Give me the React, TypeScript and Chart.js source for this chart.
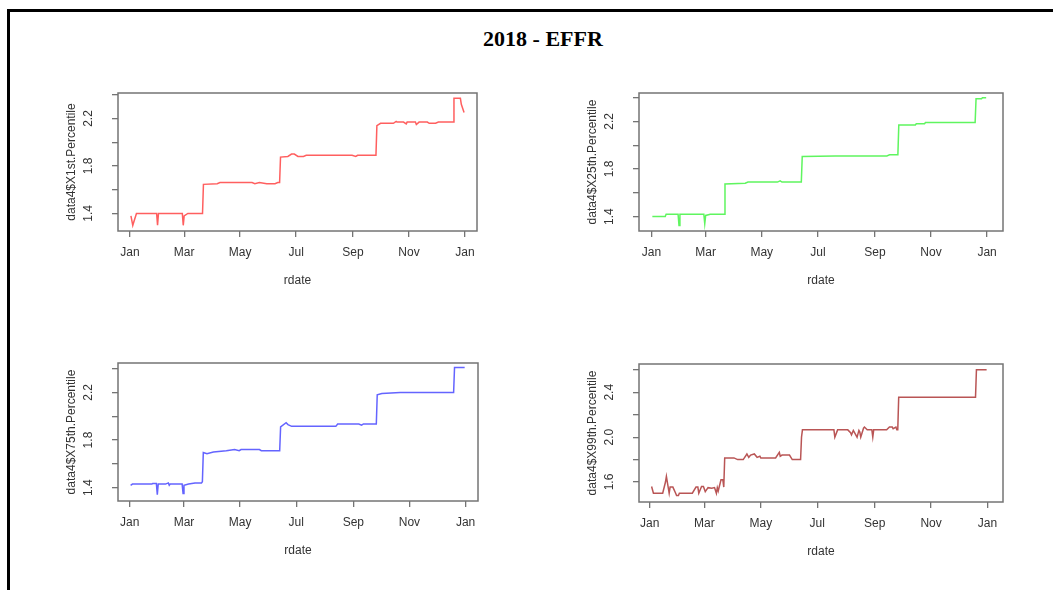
import React, { useEffect, useRef } from "react";
import { Chart, registerables } from "chart.js";

Chart.register(...registerables);

// ---------- data ----------
const xTickDates = ["2018-01-01", "2018-03-01", "2018-05-01", "2018-07-01", "2018-09-01", "2018-11-01", "2019-01-01"];
const xTickLabels = ["Jan", "Mar", "May", "Jul", "Sep", "Nov", "Jan"];

const yTicksLow = [1.4, 1.6, 1.8, 2.0, 2.2, 2.4];
const yTickLabelsLow = ["1.4", "", "1.8", "", "2.2", ""];
const yTicksHigh = [1.6, 1.8, 2.0, 2.2, 2.4, 2.6];
const yTickLabelsHigh = ["1.6", "", "2.0", "", "2.4", ""];

const x1stDates = ["01-02", "01-04", "01-08", "01-30", "01-31", "02-01", "02-27", "02-28", "03-01", "03-05", "03-21", "03-22", "04-06", "04-09", "05-14", "05-17", "05-22", "05-30", "06-08", "06-11", "06-13", "06-14", "06-22", "06-26", "06-29", "07-03", "07-09", "07-12", "08-15", "08-31", "09-04", "09-06", "09-26", "09-27", "10-01", "10-15", "10-18", "10-19", "10-26", "10-29", "10-30", "11-08", "11-09", "11-12", "11-21", "11-23", "11-30", "12-03", "12-19", "12-20", "12-27", "12-28", "12-31"];
const x1stValues = [1.38, 1.30, 1.40, 1.40, 1.30, 1.40, 1.40, 1.30, 1.38, 1.40, 1.40, 1.645, 1.65, 1.66, 1.66, 1.65, 1.66, 1.65, 1.65, 1.66, 1.66, 1.875, 1.88, 1.90, 1.90, 1.88, 1.88, 1.89, 1.89, 1.89, 1.88, 1.89, 1.89, 2.14, 2.16, 2.16, 2.175, 2.17, 2.17, 2.155, 2.17, 2.17, 2.15, 2.17, 2.17, 2.16, 2.16, 2.17, 2.17, 2.37, 2.37, 2.32, 2.25];

const x25thDates = ["01-02", "01-16", "01-17", "01-30", "01-31", "02-01", "02-27", "02-28", "03-01", "03-06", "03-21", "03-22", "04-13", "04-16", "05-18", "05-21", "05-23", "06-13", "06-14", "07-20", "09-14", "09-17", "09-26", "09-27", "10-15", "10-16", "10-25", "10-26", "12-19", "12-20", "12-26", "12-27", "12-31"];
const x25thValues = [1.40, 1.40, 1.42, 1.42, 1.325, 1.42, 1.42, 1.34, 1.41, 1.42, 1.42, 1.675, 1.68, 1.69, 1.69, 1.70, 1.69, 1.69, 1.905, 1.91, 1.91, 1.92, 1.92, 2.17, 2.17, 2.18, 2.18, 2.19, 2.19, 2.39, 2.39, 2.40, 2.40];

const x75thDates = ["01-02", "01-04", "01-25", "01-26", "01-30", "01-31", "02-01", "02-09", "02-12", "02-13", "02-14", "02-27", "02-28", "03-01", "03-06", "03-13", "03-20", "03-21", "03-22", "03-26", "04-02", "04-16", "04-25", "04-30", "05-02", "05-22", "05-24", "06-13", "06-14", "06-20", "06-22", "06-26", "08-13", "08-15", "09-07", "09-10", "09-12", "09-26", "09-27", "10-02", "10-22", "12-19", "12-20", "12-31"];
const x75thValues = [1.42, 1.43, 1.43, 1.435, 1.435, 1.34, 1.43, 1.43, 1.44, 1.42, 1.43, 1.43, 1.35, 1.42, 1.43, 1.44, 1.44, 1.45, 1.695, 1.685, 1.70, 1.71, 1.72, 1.71, 1.72, 1.72, 1.71, 1.71, 1.91, 1.945, 1.93, 1.915, 1.915, 1.935, 1.935, 1.925, 1.935, 1.935, 2.18, 2.19, 2.20, 2.20, 2.41, 2.41];

const x99thDates = ["01-03", "01-05", "01-15", "01-18", "01-19", "01-22", "01-23", "01-26", "01-29", "01-30", "02-01", "02-02", "02-16", "02-20", "02-22", "02-23", "02-26", "02-28", "03-02", "03-05", "03-09", "03-12", "03-14", "03-15", "03-16", "03-19", "03-21", "03-22", "03-23", "04-02", "04-06", "04-12", "04-16", "04-18", "04-20", "04-24", "04-27", "04-30", "05-01", "05-17", "05-21", "05-22", "05-24", "06-01", "06-04", "06-13", "06-14", "06-15", "07-19", "07-20", "07-23", "08-03", "08-06", "08-07", "08-09", "08-13", "08-15", "08-16", "08-17", "08-20", "08-21", "08-24", "08-29", "08-30", "08-31", "09-14", "09-17", "09-20", "09-21", "09-24", "09-25", "09-26", "09-27", "12-19", "12-20", "12-31"];
const x99thValues = [1.56, 1.50, 1.50, 1.60, 1.65, 1.50, 1.555, 1.555, 1.50, 1.48, 1.48, 1.50, 1.50, 1.555, 1.555, 1.50, 1.56, 1.56, 1.515, 1.55, 1.545, 1.55, 1.50, 1.55, 1.52, 1.62, 1.62, 1.555, 1.815, 1.815, 1.80, 1.80, 1.85, 1.82, 1.84, 1.85, 1.82, 1.83, 1.815, 1.815, 1.865, 1.83, 1.84, 1.84, 1.80, 1.80, 2.00, 2.065, 2.065, 2.00, 2.065, 2.065, 2.04, 2.02, 2.06, 2.00, 2.06, 2.045, 2.00, 2.08, 2.09, 2.065, 2.065, 2.00, 2.065, 2.065, 2.09, 2.09, 2.075, 2.09, 2.065, 2.065, 2.355, 2.355, 2.60, 2.60];

// ---------- helpers ----------
const dayOf = (s: string): number => {
  const full = s.length === 5 ? `2018-${s}` : s;
  const [y, m, d] = full.split("-").map(Number);
  return (Date.UTC(y, m - 1, d) - Date.UTC(2018, 0, 1)) / 86400000;
};

const FONT = "'Liberation Sans', Arial, sans-serif";
const TEXT_COLOR = "#333333";
const AXIS_COLOR = "#747474";
const Y_AXIS_W = 70;
const X_AXIS_H = 60;
const PAD_TOP = 25;
const PAD_RIGHT = 20;

type PanelCfg = {
  dates: string[];
  values: number[];
  color: string;
  yLabel: string;
  box: [number, number, number, number];
  xRange: [number, number];
  yRange: [number, number];
  yTicks: number[];
  yTickLabels: string[];
};

const panels: PanelCfg[] = [
  { dates: x1stDates, values: x1stValues, color: "rgb(255,95,95)", yLabel: "data4$X1st.Percentile", box: [118, 93, 477, 231], xRange: [-13.1, 378.1], yRange: [1.252, 2.415], yTicks: yTicksLow, yTickLabels: yTickLabelsLow },
  { dates: x25thDates, values: x25thValues, color: "rgb(95,245,95)", yLabel: "data4$X25th.Percentile", box: [639, 93, 1003, 231], xRange: [-13.5, 382.3], yRange: [1.279, 2.439], yTicks: yTicksLow, yTickLabels: yTickLabelsLow },
  { dates: x75thDates, values: x75thValues, color: "rgb(100,100,255)", yLabel: "data4$X75th.Percentile", box: [118, 363, 478, 501], xRange: [-12.7, 378.5], yRange: [1.288, 2.447], yTicks: yTicksLow, yTickLabels: yTickLabelsLow },
  { dates: x99thDates, values: x99thValues, color: "rgb(185,85,85)", yLabel: "data4$X99th.Percentile", box: [639, 364, 1003, 502], xRange: [-11.6, 381.7], yRange: [1.422, 2.652], yTicks: yTicksHigh, yTickLabels: yTickLabelsHigh },
];

const boxPlugin = {
  id: "rbox",
  afterDatasetsDraw(chart: any) {
    const { ctx, chartArea: a } = chart;
    ctx.save();
    ctx.strokeStyle = AXIS_COLOR;
    ctx.lineWidth = 1.5;
    ctx.strokeRect(a.left, a.top, a.right - a.left, a.bottom - a.top);
    ctx.restore();
  },
};

function Panel({ cfg }: { cfg: PanelCfg }) {
  const ref = useRef<HTMLCanvasElement>(null);
  const [l, t, r, b] = cfg.box;
  const w = r - l + Y_AXIS_W + PAD_RIGHT;
  const h = b - t + PAD_TOP + X_AXIS_H;

  useEffect(() => {
    const canvas = ref.current;
    if (!canvas) return;
    const points = cfg.dates.map((d, i) => ({ x: dayOf(d), y: cfg.values[i] }));
    const xTickValues = xTickDates.map(dayOf);
    const chart = new Chart(canvas, {
      type: "line",
      data: {
        datasets: [
          {
            data: points,
            borderColor: cfg.color,
            borderWidth: 1.5,
            pointRadius: 0,
            tension: 0,
            fill: false,
          },
        ],
      },
      options: {
        animation: false,
        responsive: false,
        layout: { padding: { top: PAD_TOP, right: PAD_RIGHT, left: 0, bottom: 0 } },
        plugins: { legend: { display: false }, tooltip: { enabled: false } },
        scales: {
          x: {
            type: "linear",
            min: cfg.xRange[0],
            max: cfg.xRange[1],
            afterBuildTicks: (s: any) => {
              s.ticks = xTickValues.map((v) => ({ value: v }));
            },
            afterFit: (s: any) => {
              s.height = X_AXIS_H;
            },
            grid: { display: true, drawOnChartArea: false, drawTicks: true, tickLength: 6, color: AXIS_COLOR, lineWidth: 1.3 },
            border: { display: false },
            ticks: {
              autoSkip: false,
              minRotation: 0,
              maxRotation: 0,
              padding: 8,
              color: TEXT_COLOR,
              font: { family: FONT, size: 12 },
              callback: (_v: any, i: number) => xTickLabels[i],
            },
            title: { display: true, text: "rdate", color: TEXT_COLOR, font: { family: FONT, size: 12 }, padding: { top: 0, bottom: 3 } },
          },
          y: {
            type: "linear",
            min: cfg.yRange[0],
            max: cfg.yRange[1],
            afterBuildTicks: (s: any) => {
              s.ticks = cfg.yTicks.map((v) => ({ value: v }));
            },
            afterFit: (s: any) => {
              s.width = Y_AXIS_W;
            },
            grid: { display: true, drawOnChartArea: false, drawTicks: true, tickLength: 6, color: AXIS_COLOR, lineWidth: 1.3 },
            border: { display: false },
            ticks: {
              autoSkip: false,
              minRotation: 90,
              maxRotation: 90,
              crossAlign: "center",
              padding: 14.5,
              color: TEXT_COLOR,
              font: { family: FONT, size: 12 },
              callback: (_v: any, i: number) => cfg.yTickLabels[i],
            },
            title: { display: true, text: cfg.yLabel, color: TEXT_COLOR, font: { family: FONT, size: 12 }, padding: { top: 16, bottom: 0 } },
          },
        },
      } as any,
      plugins: [boxPlugin],
    });
    return () => chart.destroy();
  }, []);

  return (
    <canvas
      ref={ref}
      width={w}
      height={h}
      style={{ position: "absolute", left: l - Y_AXIS_W, top: t - PAD_TOP, width: w, height: h }}
    />
  );
}

export default function App() {
  return (
    <div style={{ position: "fixed", left: 0, top: 0, width: 1053, height: 590, overflow: "hidden", background: "#fff" }}>
      <div
        style={{
          position: "absolute",
          left: 7,
          top: 9,
          width: 1200,
          height: 800,
          border: "3px solid #000",
          boxSizing: "border-box",
        }}
      />
      <div
        style={{
          position: "absolute",
          left: 393,
          top: 26,
          width: 300,
          textAlign: "center",
          fontFamily: "'Liberation Serif', 'Times New Roman', serif",
          fontWeight: "bold",
          fontSize: 22,
          lineHeight: "26px",
          color: "#000",
        }}
      >
        2018 - EFFR
      </div>
      {panels.map((p, i) => (
        <Panel key={i} cfg={p} />
      ))}
    </div>
  );
}
